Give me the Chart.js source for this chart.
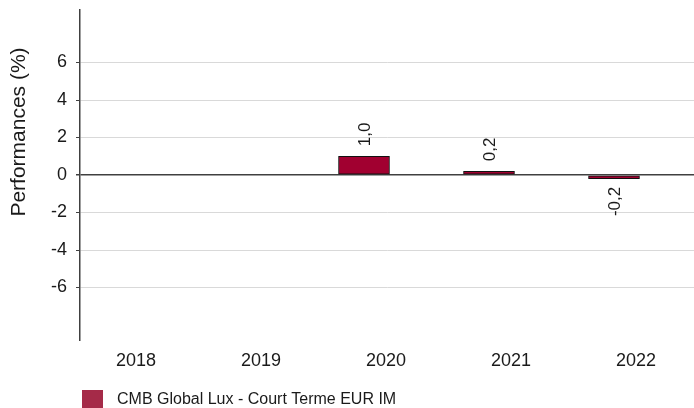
<!DOCTYPE html>
<html>
<head>
<meta charset="utf-8">
<script src="https://cdn.jsdelivr.net/npm/chart.js@4.4.1/dist/chart.umd.min.js"></script>
<style>
  html, body { margin: 0; padding: 0; background: #fff; }
  canvas { display: block; }
</style>
</head>
<body>
<canvas id="perfChart" width="694" height="408"></canvas>
<script>
const years = ['2018', '2019', '2020', '2021', '2022'];
const performances = [null, null, 1.0, 0.2, -0.2];
const yTicks = [-6, -4, -2, 0, 2, 4, 6];
const seriesName = 'CMB Global Lux - Court Terme EUR IM';
const yTitle = 'Performances (%)';

const FONT = '"Liberation Sans", Arial, sans-serif';
const barColor = '#a10030';
const legendColor = '#a52a48';

// rotated value labels above / below each bar
const valueLabels = {
    id: 'valueLabels',
    afterDatasetsDraw(chart) {
        const ctx = chart.ctx;
        const meta = chart.getDatasetMeta(0);
        ctx.save();
        ctx.font = '17px ' + FONT;
        ctx.fillStyle = '#1a1a1a';
        ctx.textBaseline = 'middle';
        meta.data.forEach((bar, i) => {
            const v = performances[i];
            if (v === null) return;
            const txt = v.toFixed(1).replace('.', ',');
            const props = bar.getProps(['x', 'y', 'base'], true);
            ctx.save();
            if (v >= 0) {
                ctx.translate(props.x, Math.min(props.y, props.base) - 10);
                ctx.rotate(-Math.PI / 2);
                ctx.textAlign = 'left';
            } else {
                ctx.translate(props.x, Math.max(props.y, props.base) + 8);
                ctx.rotate(-Math.PI / 2);
                ctx.textAlign = 'right';
            }
            ctx.fillText(txt, 0, 1);
            ctx.restore();
        });
        ctx.restore();
    }
};

// y title and legend drawn where the original has them
const extras = {
    id: 'extras',
    afterDraw(chart) {
        const ctx = chart.ctx;
        ctx.save();
        ctx.fillStyle = '#1a1a1a';
        ctx.font = '21px ' + FONT;
        ctx.translate(19, 132);
        ctx.rotate(-Math.PI / 2);
        ctx.textAlign = 'center';
        ctx.textBaseline = 'middle';
        ctx.fillText(yTitle, 0, 0);
        ctx.restore();

        ctx.save();
        ctx.fillStyle = legendColor;
        ctx.fillRect(82, 390, 21, 19);
        ctx.fillStyle = '#1a1a1a';
        ctx.font = '16px ' + FONT;
        ctx.textBaseline = 'middle';
        ctx.fillText(seriesName, 117, 400);
        ctx.restore();
    }
};

const ctx = document.getElementById('perfChart').getContext('2d');

new Chart(ctx, {
    type: 'bar',
    data: {
        datasets: [{
            label: seriesName,
            data: years.map((_, i) => ({ x: i, y: performances[i] })),
            backgroundColor: barColor,
            borderColor: '#111',
            borderWidth: 1,
            borderSkipped: false,
            barThickness: 51
        }]
    },
    options: {
        responsive: false,
        animation: false,
        layout: { padding: { top: 10, right: 0, bottom: 0, left: 0 } },
        plugins: {
            legend: { display: false },
            tooltip: { enabled: false }
        },
        scales: {
            x: {
                type: 'linear',
                offset: false,
                min: -0.272,
                max: 4.64,
                afterBuildTicks: (scale) => {
                    scale.ticks = years.map((_, i) => ({ value: i }));
                },
                afterFit: (scale) => {
                    scale.height = 68;
                    scale.paddingLeft = 0;
                    scale.paddingRight = 0;
                },
                grid: { display: false, drawTicks: false },
                border: { display: false },
                ticks: {
                    autoSkip: false,
                    maxRotation: 0,
                    padding: 10,
                    labelOffset: 22,
                    color: '#1a1a1a',
                    font: { family: FONT, size: 18 },
                    callback: (value) => years[value]
                }
            },
            y: {
                min: -8.8,
                max: 8.8,
                afterBuildTicks: (scale) => {
                    scale.ticks = yTicks.map(v => ({ value: v }));
                },
                afterFit: (scale) => {
                    scale.width = 80;
                    scale.paddingTop = 0;
                    scale.paddingBottom = 0;
                },
                border: { display: true, color: '#404040', width: 1.5 },
                grid: {
                    color: (c) => c.tick && c.tick.value === 0 ? '#404040' : '#d9d9d9',
                    lineWidth: (c) => c.tick && c.tick.value === 0 ? 1.5 : 1,
                    tickColor: '#404040',
                    tickLength: 4
                },
                ticks: {
                    padding: 9,
                    color: '#1a1a1a',
                    font: { family: FONT, size: 18 }
                }
            }
        }
    },
    plugins: [valueLabels, extras]
});
</script>
</body>
</html>
